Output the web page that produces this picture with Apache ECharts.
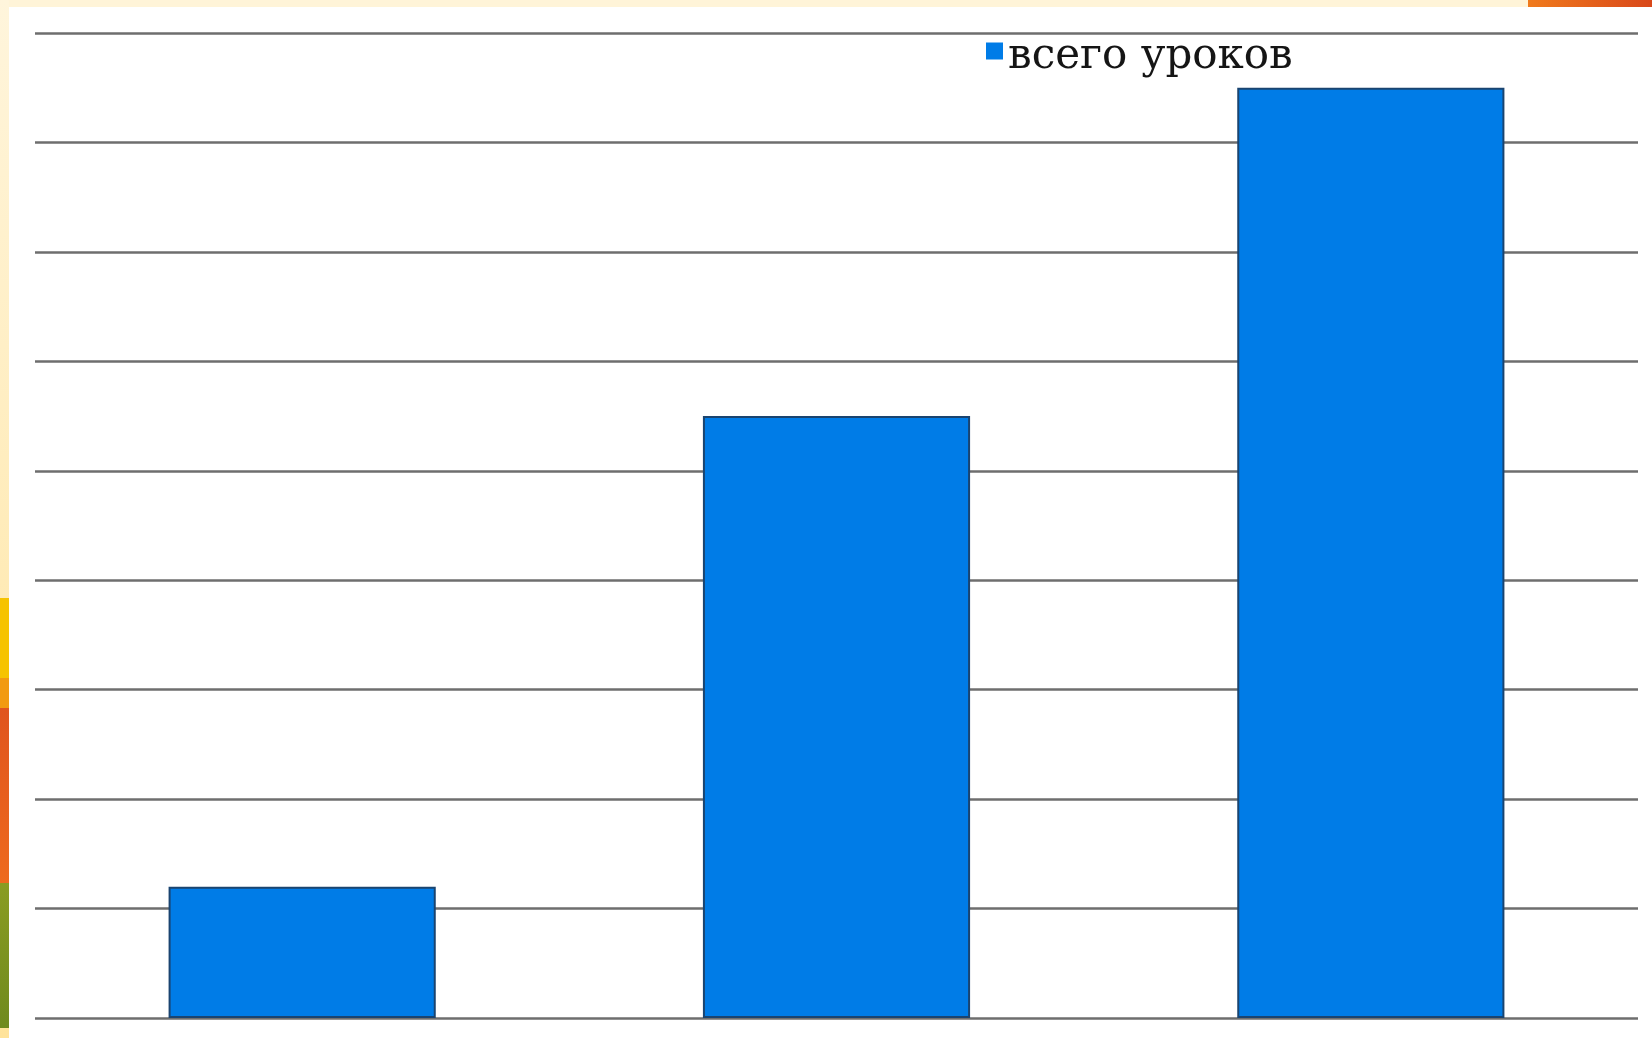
<!DOCTYPE html>
<html>
<head>
<meta charset="utf-8">
<script src="https://cdn.jsdelivr.net/npm/echarts@6/dist/echarts.min.js"></script>
<style>
html,body{margin:0;padding:0;background:#ffffff;}
#chart{width:1652px;height:1038px;}
</style>
</head>
<body>
<div id="chart"></div>
<script>
const categories = ['1', '2', '3'];
const seriesName = 'всего уроков';
const seriesValues = [12, 55, 85];
const yTicks = [0, 10, 20, 30, 40, 50, 60, 70, 80, 90];

const chart = echarts.init(document.getElementById('chart'), null, {renderer: 'canvas'});
const option = {
  backgroundColor: '#ffffff',
  animation: false,
  graphic: [
    {type: 'rect', silent: true, z: -10, shape: {x: 0, y: 0, width: 1652, height: 7}, style: {fill: '#fff4d8'}},
    {type: 'rect', silent: true, z: -10, shape: {x: 1528, y: 0, width: 124, height: 7},
      style: {fill: new echarts.graphic.LinearGradient(0, 0, 1, 0, [{offset: 0, color: '#f07a1c'}, {offset: 1, color: '#d9481a'}])}},
    {type: 'rect', silent: true, z: -10, shape: {x: 0, y: 0, width: 9, height: 1038},
      style: {fill: new echarts.graphic.LinearGradient(0, 0, 0, 1, [{offset: 0, color: '#fff5dc'}, {offset: 1, color: '#ffe39a'}])}},
    {type: 'rect', silent: true, z: -9, shape: {x: 0, y: 598, width: 9, height: 80}, style: {fill: '#f6c300'}},
    {type: 'rect', silent: true, z: -9, shape: {x: 0, y: 678, width: 9, height: 30}, style: {fill: '#f29a10'}},
    {type: 'rect', silent: true, z: -9, shape: {x: 0, y: 708, width: 9, height: 175},
      style: {fill: new echarts.graphic.LinearGradient(0, 0, 0, 1, [{offset: 0, color: '#e0541e'}, {offset: 1, color: '#ee6a1e'}])}},
    {type: 'rect', silent: true, z: -9, shape: {x: 0, y: 883, width: 9, height: 145},
      style: {fill: new echarts.graphic.LinearGradient(0, 0, 0, 1, [{offset: 0, color: '#8a9c22'}, {offset: 1, color: '#6f8a1e'}])}}
  ],
  legend: {
    show: true,
    left: 986,
    top: 24,
    padding: 0,
    icon: 'rect',
    itemWidth: 17,
    itemHeight: 17,
    itemGap: 10,
    itemStyle: {borderWidth: 0},
    formatter: '{a|{name}}',
    textStyle: {
      fontFamily: 'DejaVu Serif', fontSize: 42, color: '#151515',
      rich: {a: {fontFamily: 'DejaVu Serif', fontSize: 42, lineHeight: 42, color: '#151515', padding: [12, 0, 0, 0]}}
    },
    data: [seriesName]
  },
  grid: {left: 35, right: 14, top: 33, bottom: 20, containLabel: false},
  xAxis: {
    type: 'category',
    data: categories,
    axisLine: {show: false},
    axisTick: {show: false},
    axisLabel: {show: false}
  },
  yAxis: {
    type: 'value',
    min: yTicks[0],
    max: yTicks[yTicks.length - 1],
    interval: yTicks[1] - yTicks[0],
    axisLine: {show: false},
    axisTick: {show: false},
    axisLabel: {show: false},
    splitLine: {show: true, lineStyle: {color: '#6e6e6e', width: 2.5}}
  },
  series: [{
    name: seriesName,
    type: 'bar',
    data: seriesValues,
    barCategoryGap: '50%',
    itemStyle: {color: '#007ce7', borderColor: '#1a4470', borderWidth: 2},
    z: 3
  }]
};
chart.setOption(option);
</script>
</body>
</html>
